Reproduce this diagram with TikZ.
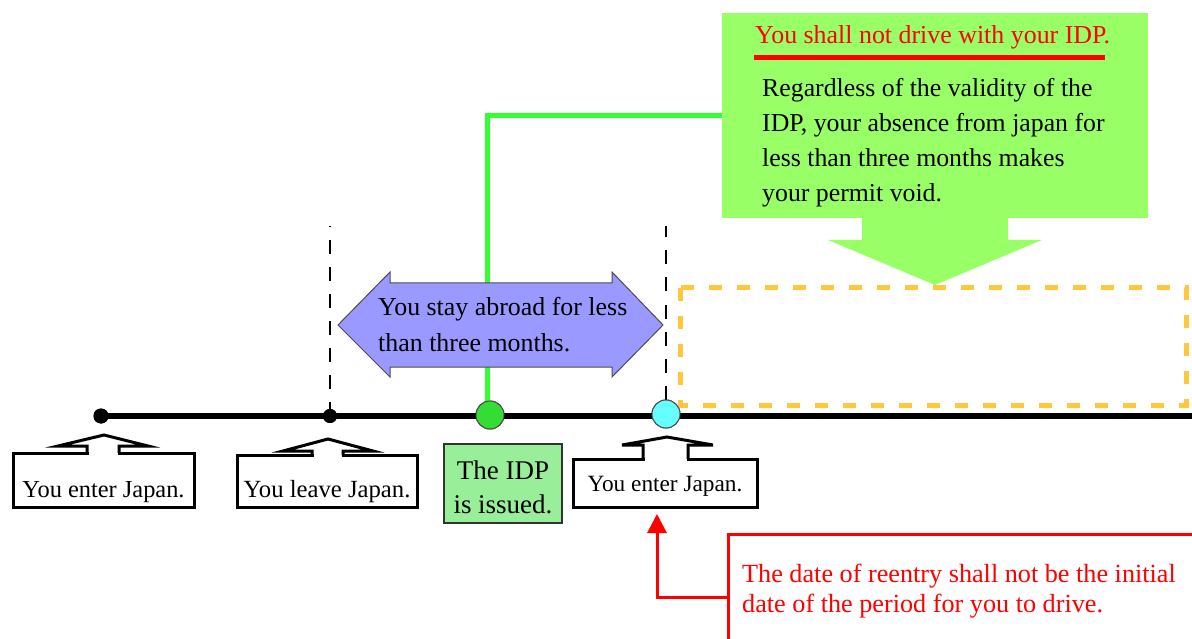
\documentclass[tikz,border=0pt]{standalone}
\usepackage{fontspec}
\setmainfont{Liberation Serif}
\usetikzlibrary{arrows.meta}
\definecolor{boxgreen}{HTML}{99FF66}
\definecolor{linegreen}{HTML}{33FF33}
\definecolor{dotgreen}{HTML}{33DD33}
\definecolor{dotcyan}{HTML}{66FFFF}
\definecolor{idpgreen}{HTML}{99EE99}
\definecolor{stayblue}{HTML}{9999FF}
\definecolor{dashorange}{HTML}{FFC83C}
\begin{document}
\begin{tikzpicture}[x=1pt,y=-1pt,
  calloutbox/.style={draw=black, line width=3pt, fill=white, inner sep=0pt},
  pointer/.style={draw=black, line width=3pt, line join=miter},
  vdash/.style={draw=black, line width=1.4pt, dash pattern=on 14pt off 13pt},
  orangebox/.style={draw=dashorange, line width=5pt, dash pattern=on 13pt off 15pt},
  blackdot/.style={circle, fill=black, inner sep=0pt},
  bigdot/.style={circle, draw=black!70, line width=1pt, inner sep=0pt, minimum size=28pt},
  plaintext/.style={inner sep=0pt, align=left, anchor=north west}
]
\clip (0,0) rectangle (1192,639);
\fill[white] (0,0) rectangle (1192,639);

% orange dashed region
\draw[orangebox] (680,288) rectangle (1186,405);

% timeline points
\node[blackdot, minimum size=15pt] (enterdot) at (101,416) {};
\node[blackdot, minimum size=14pt] (leavedot) at (330,416) {};
\node[bigdot, fill=dotgreen] (gdot) at (490,415) {};
\node[bigdot, fill=dotcyan] (cdot) at (666,414) {};
\coordinate (dtop) at (0,226);
\coordinate (tlend) at (1196,416);

% dashed markers
\draw[vdash] (leavedot.center) -- (leavedot.center |- dtop);
\draw[vdash] (cdot.north) -- (cdot.north |- dtop);

% green box with down arrow
\node[fill=boxgreen, minimum width=426pt, minimum height=205pt, inner sep=0pt] (gbox) at (935,115.5) {};
\fill[boxgreen] (862,217) -- (862,240) -- (828,240) -- (935,285) -- (1042,240) -- (1008,240) -- (1008,217) -- cycle;

% green connector
\draw[linegreen, line width=5pt] ([xshift=-3pt]gdot.north) |- (gbox.west);

% stay-abroad double arrow
\filldraw[fill=stayblue, draw=black!70, line width=1pt, line join=miter]
  (338,325) -- (390,272) -- (390,283) -- (612,283) -- (612,272) -- (663,325)
  -- (612,377) -- (612,367) -- (390,367) -- (390,377) -- cycle;
\node[plaintext, font=\fontsize{25.9}{36}\selectfont] (stay) at (378,297.3)
  {You stay abroad for less\\than three months.};

% timeline
\draw[line width=6pt] (enterdot.center) -- (tlend);
\node[blackdot, minimum size=15pt] at (enterdot) {};
\node[blackdot, minimum size=14pt] at (leavedot) {};
\node[bigdot, fill=dotgreen] at (gdot) {};
\node[bigdot, fill=dotcyan] at (cdot) {};

% callouts
\node[calloutbox, minimum width=181pt, minimum height=54pt, text height=38pt, text depth=4pt,
  font=\fontsize{24.4}{28}\selectfont] (enter1) at (103.5,480) {You enter Japan.};
\fill[white] (88.5,450.5) rectangle (117.5,455.5);
\draw[pointer] (87,453) -- (87,446) -- (58,446) -- (104,435) -- (148,446) -- (119,446) -- (119,453);

\node[calloutbox, minimum width=180pt, minimum height=52pt, text height=36pt, text depth=4pt,
  font=\fontsize{24.7}{28}\selectfont] (leave) at (327,481) {You leave Japan.};
\fill[white] (313.5,452.5) rectangle (341.5,457.5);
\draw[pointer] (312,455) -- (312,451) -- (283,451) -- (328,439) -- (373,451) -- (343,451) -- (343,455);

\node[calloutbox, minimum width=184pt, minimum height=48pt, text height=20pt, text depth=4pt,
  font=\fontsize{23.3}{28}\selectfont] (enter2) at (665,483) {You enter Japan.};
\fill[white] (644.5,456.5) rectangle (686.5,461.5);
\draw[pointer] (643,459) -- (643,445) -- (622,445) -- (667,437) -- (713,445) -- (688,445) -- (688,459);

\node[draw=black!80, line width=1.5pt, fill=idpgreen, minimum width=118pt, minimum height=79pt,
  inner sep=0pt] (idp) at (503,483.5) {};
\node[inner sep=0pt, align=center, font=\fontsize{27}{34}\selectfont] (idptext)
  at ([yshift=-4pt]idp.center) {The IDP\\is issued.};

% texts in green box
\node[inner sep=0pt, anchor=base west, text=red, font=\fontsize{25.9}{30}\selectfont] (title) at (755,44)
  {You shall not drive with your IDP.};
\draw[red, line width=5pt] (754,58) -- (1105,58);
\node[plaintext, font=\fontsize{25.8}{35}\selectfont] (body) at (762,78.4)
  {Regardless of the validity of the\\IDP, your absence from japan for\\less than three months makes\\your permit void.};

% red note
\node[draw=red, line width=3pt, minimum width=500pt, minimum height=126pt, inner sep=0pt] (rbox) at (978,597) {};
\node[plaintext, text=red, font=\fontsize{26.2}{30}\selectfont] (rtext) at (742,564.1)
  {The date of reentry shall not be the initial\\date of the period for you to drive.};
\coordinate (rtip) at (657,514);
\draw[red, line width=3pt, -{Triangle[length=19pt,width=19pt]}] (rbox.west) -| (rtip);
\end{tikzpicture}
\end{document}
